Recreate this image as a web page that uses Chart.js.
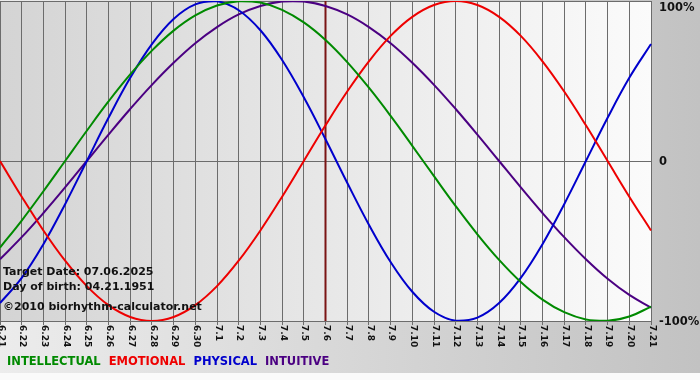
<!DOCTYPE html>
<html>
<head>
<meta charset="utf-8">
<script src="https://cdn.jsdelivr.net/npm/chart.js@4.4.1/dist/chart.umd.min.js"></script>
<style>
html, body { margin: 0; padding: 0; }
body { width: 700px; height: 380px; overflow: hidden; background: linear-gradient(to right, #ececec, #c2c2c2); font-family: "DejaVu Sans", Verdana, sans-serif; }
#wrap { position: relative; width: 700px; height: 380px; }
#wrap canvas { position: absolute; left: 0; top: 0; }
.note { position: absolute; left: 3px; font-weight: bold; font-size: 11px; line-height: 13px; color: #111; white-space: nowrap; }
#legend { position: absolute; left: 7px; top: 355px; font-weight: bold; font-size: 11.5px; line-height: 13px; white-space: nowrap; }
#legend span { margin-right: 8px; }
#foot { position: absolute; left: 0; top: 373px; width: 700px; height: 7px; background: #fafafa; }
</style>
</head>
<body>
<div id="wrap">
  <canvas id="c" width="700" height="380"></canvas>
  <div class="note" style="top:265px">Target Date: 07.06.2025</div>
  <div class="note" style="top:280px">Day of birth: 04.21.1951</div>
  <div class="note" style="top:300px">©2010 biorhythm-calculator.net</div>
  <div id="legend"></div>
  <div id="foot"></div>
</div>
<script>
// days shown (month.day)
const days = ['6.21','6.22','6.23','6.24','6.25','6.26','6.27','6.28','6.29','6.30',
  '7.1','7.2','7.3','7.4','7.5','7.6','7.7','7.8','7.9','7.10','7.11','7.12','7.13','7.14',
  '7.15','7.16','7.17','7.18','7.19','7.20','7.21'];
const targetDay = '7.6';

// percent values per day
const intellectual = [-54.1,-37.2,-18.9,0,18.9,37.2,54.1,69.0,81.5,91.0,97.2,99.9,99.0,94.5,86.6,75.6,
  61.8,45.8,28.2,9.5,-9.5,-28.2,-45.8,-61.8,-75.6,-86.6,-94.5,-99.0,-99.9,-97.2,-91.0];
const emotional = [0,-22.3,-43.4,-62.3,-78.2,-90.1,-97.5,-100,-97.5,-90.1,-78.2,-62.3,-43.4,-22.3,0,22.3,
  43.4,62.3,78.2,90.1,97.5,100,97.5,90.1,78.2,62.3,43.4,22.3,0,-22.3,-43.4];
const physical = [-88.8,-73.1,-52.0,-27.0,0,27.0,52.0,73.1,88.8,97.9,99.8,94.2,81.7,63.1,39.8,13.6,
  -13.6,-39.8,-63.1,-81.7,-94.2,-99.8,-97.9,-88.8,-73.1,-52.0,-27.0,0,27.0,52.0,73.1];
const intuitive = [-61.4,-47.6,-32.5,-16.5,0,16.5,32.5,47.6,61.4,73.6,83.7,91.6,96.9,99.7,99.7,96.9,
  91.6,83.7,73.6,61.4,47.6,32.5,16.5,0,-16.5,-32.5,-47.6,-61.4,-73.6,-83.7,-91.6];

const seriesNames = ['INTELLECTUAL','EMOTIONAL','PHYSICAL','INTUITIVE'];
const seriesColors = ['#008a00','#ee0000','#0000cc','#4b0082'];

const yTicks = [100, 0, -100];
const yTickLabels = ['100%', '0', '-100%'];

const legend = document.getElementById('legend');
seriesNames.forEach((n, i) => {
  const s = document.createElement('span');
  s.textContent = n;
  s.style.color = seriesColors[i];
  legend.appendChild(s);
});

const gridColor = '#6c6c6c';

const decor = {
  id: 'decor',
  beforeDraw(chart) {
    const { ctx, chartArea: a } = chart;
    const g = ctx.createLinearGradient(a.left, 0, a.right, 0);
    g.addColorStop(0, '#d4d4d4');
    g.addColorStop(1, '#fbfbfb');
    ctx.save();
    ctx.fillStyle = g;
    ctx.fillRect(a.left, a.top, a.right - a.left, a.bottom - a.top);
    ctx.restore();
  },
  beforeDatasetsDraw(chart) {
    const { ctx, chartArea: a } = chart;
    const x = chart.scales.x.getPixelForValue(days.indexOf(targetDay));
    ctx.save();
    ctx.strokeStyle = '#7a1414';
    ctx.lineWidth = 2;
    ctx.beginPath();
    ctx.moveTo(x, a.top);
    ctx.lineTo(x, a.bottom);
    ctx.stroke();
    ctx.restore();
  },
  afterDraw(chart) {
    const { ctx, chartArea: a } = chart;
    const xs = chart.scales.x, ys = chart.scales.y;
    ctx.save();
    ctx.fillStyle = '#111';
    ctx.font = 'bold 9px "DejaVu Sans"';
    ctx.textAlign = 'left';
    ctx.textBaseline = 'middle';
    days.forEach((d, i) => {
      const x = xs.getPixelForValue(i);
      ctx.save();
      ctx.translate(x + 1, a.bottom + 4);
      ctx.rotate(Math.PI / 2);
      ctx.fillText(d, 0, 0);
      ctx.restore();
    });
    ctx.font = 'bold 11.5px "DejaVu Sans"';
    yTicks.forEach((v, i) => {
      const y = Math.max(ys.getPixelForValue(v) + 1, a.top + 7);
      ctx.fillText(yTickLabels[i], a.right + 8, y);
    });
    ctx.restore();
  }
};

new Chart(document.getElementById('c'), {
  type: 'line',
  data: {
    labels: days,
    datasets: [intellectual, emotional, physical, intuitive].map((d, i) => ({
      label: seriesNames[i],
      data: d,
      borderColor: seriesColors[i],
      backgroundColor: seriesColors[i],
      borderWidth: 2,
      pointRadius: 0,
      tension: 0.4,
      fill: false
    }))
  },
  options: {
    responsive: false,
    animation: false,
    devicePixelRatio: 1,
    layout: { padding: { top: 1, left: 0, right: 0, bottom: 0 } },
    plugins: { legend: { display: false }, tooltip: { enabled: false } },
    scales: {
      x: {
        offset: false,
        grid: { color: gridColor, lineWidth: 1, drawTicks: true, tickLength: 4 },
        border: { color: gridColor },
        ticks: { display: false, autoSkip: false },
        afterFit(s) { s.height = 59; }
      },
      y: {
        position: 'right',
        min: -100,
        max: 100,
        afterBuildTicks(s) { s.ticks = yTicks.map(v => ({ value: v })); },
        grid: { color: gridColor, drawTicks: false },
        border: { display: false },
        ticks: { display: false },
        afterFit(s) { s.width = 49; }
      }
    }
  },
  plugins: [decor]
});
</script>
</body>
</html>
